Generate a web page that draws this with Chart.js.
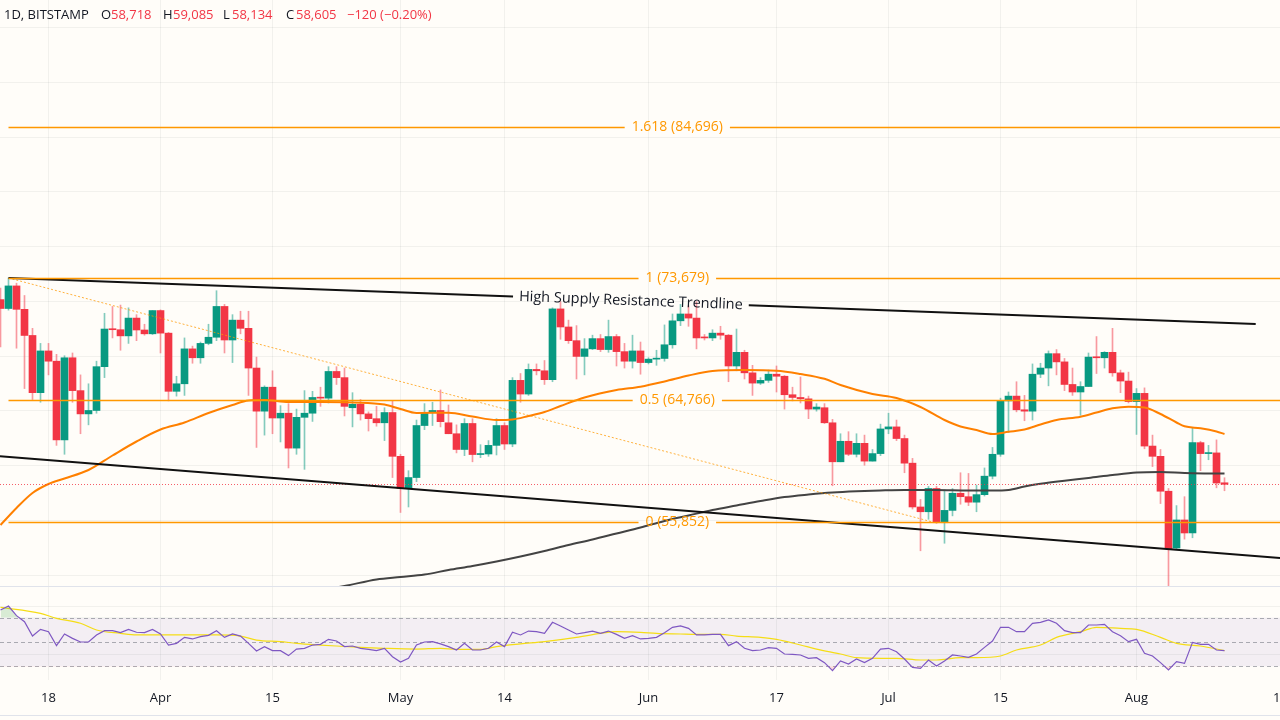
<!DOCTYPE html>
<html><head><meta charset="utf-8">
<script src="https://cdn.jsdelivr.net/npm/chart.js@4.4.1/dist/chart.umd.min.js"></script>
<style>
html,body{margin:0;padding:0;background:#fffdf9;width:1280px;height:720px;overflow:hidden;font-family:'Open Sans',sans-serif}
#main{position:absolute;left:0;top:0;width:1280px;height:586px}
#rsi{position:absolute;left:0;top:586px;width:1280px;height:134px}
#hdr{position:absolute;left:0;top:0;height:30px;width:460px;font-size:13px;color:#131722}
#hdr span{position:absolute;top:5px;white-space:nowrap;line-height:18px}
.r{color:#f23645}
</style></head>
<body>
<div id="main"><canvas id="c1"></canvas></div>
<div id="rsi"><canvas id="c2"></canvas></div>
<div id="hdr">
<span style="left:4px">1D, BITSTAMP</span>
<span style="left:101px">O</span><span class="r" style="left:111px">58,718</span>
<span style="left:163px">H</span><span class="r" style="left:173px">59,085</span>
<span style="left:223px">L</span><span class="r" style="left:232px">58,134</span>
<span style="left:286px">C</span><span class="r" style="left:296px">58,605</span>
<span class="r" style="left:347px">&minus;120 (&minus;0.20%)</span>
</div>
<script>
// ---- daily candles, index 0 = 12 Mar, last = 12 Aug ----
const opens = [72100,71450,73100,71390,69480,65300,68350,67600,61850,67850,
65450,63750,64000,67200,69950,69900,69450,70750,69880,69600,
71300,69650,65400,65950,68500,67850,68900,69350,71600,69150,
70600,70000,67100,63950,65700,63450,63800,61250,63500,63800,
64950,64900,66850,66400,64200,64450,63750,63400,63100,63850,
60650,58300,59100,62900,63850,64000,63100,62300,61150,63050,
60780,60820,61450,62900,61550,66200,65200,67000,66900,66250,
71420,70100,69100,67950,68500,69250,68450,69400,68300,67600,
68350,67500,67750,67800,68800,70550,71050,70750,69320,69300,
69650,69500,67250,68250,66750,66000,66200,66650,66500,65150,
64950,64850,64100,64200,63100,60250,61750,60800,61600,60300,
60850,62650,62800,61950,60150,56950,56600,58300,55800,56700,
57950,57700,57300,57850,59200,60800,64700,65050,64050,63950,
66650,67100,68150,67550,65900,65350,65750,67900,67850,68250,
66750,66150,64650,65250,61400,60650,58100,53950,56000,55050,
61650,60850,60900,58718];
const highs = [72950,73679,73300,72400,70000,68900,68900,68100,68000,68200,
66600,65950,67600,71100,71600,71700,71500,71000,70300,71300,
71350,69700,66500,69300,68700,69000,70300,72750,71750,71000,
71250,71250,67900,65800,66900,64350,64500,64100,65450,65400,
65700,67200,67200,67100,65300,64800,63900,64300,64200,64700,
60800,59600,63300,64500,64600,65500,64400,62950,63400,63400,
61500,61800,63400,63100,66400,66700,67400,67400,67650,71500,
71950,70600,70200,69250,69500,69550,70600,69550,68900,69500,
69000,67850,68400,70250,71050,71750,71650,71950,69550,69900,
70150,69550,69950,68400,67300,66400,66950,67250,66550,65700,
66450,65050,64500,64500,63350,62300,62450,62300,62200,61150,
63000,63800,63300,62200,60500,57500,58450,58450,58200,58300,
59450,59400,58550,59800,61300,64900,65350,66100,65100,67400,
67450,68350,68450,67800,67100,66100,68200,69400,68300,70000,
66950,66800,65600,65650,62200,61150,58300,57050,57700,62700,
61750,61450,61850,59085];
const lows = [68650,71330,68550,65600,64800,64600,66600,61450,60800,64600,
62300,62950,63800,66400,69300,68400,68900,69100,69500,69550,
68200,64700,65050,65100,67450,67450,68800,69100,68200,67500,
69600,65100,61300,62200,62300,61700,59800,60800,59700,63200,
64300,64550,65900,63600,62800,63300,62500,62850,61800,59100,
56550,56950,58800,62600,62900,62800,62300,60900,60700,60250,
60550,60650,60750,61150,61350,64600,65100,66600,65900,66100,
69200,68900,66300,66600,68450,68300,68250,67250,67100,67100,
66650,67400,67300,67600,68550,70200,70150,68500,69150,69100,
69200,66100,66900,66300,65100,65900,66050,65350,64100,64700,
64550,63400,63950,63050,58500,60250,60700,60600,60000,60300,
60700,62300,61800,59450,56800,53750,56050,55750,54300,56300,
57150,57050,56600,57750,59000,60650,62400,63900,63250,63300,
66400,65800,66600,65450,65100,63650,65750,66700,67100,66500,
65300,64550,62250,61200,59900,57200,49050,53850,54600,54700,
59600,60400,58350,58134];
const closes = [71450,73100,71390,69480,65300,68350,67600,61850,67850,65450,
63750,64000,67200,69950,69900,69450,70750,69880,69600,71300,
69650,65400,65950,68500,67850,68900,69350,71600,69150,70600,
70000,67100,63950,65700,63450,63800,61250,63500,63800,64950,
64900,66850,66400,64300,64450,63750,63400,63100,63850,60650,
58300,59100,62900,63850,64000,63180,62300,61150,63050,60780,
60820,61450,62900,61550,66200,65200,67000,66900,66250,71420,
70100,69100,67950,68500,69250,68450,69400,68300,67600,68350,
67500,67750,67800,68800,70550,71050,70750,69300,69300,69650,
69500,67250,68250,66750,66000,66200,66650,66500,65150,64950,
64850,64100,64250,63100,60250,61750,60800,61600,60300,60850,
62650,62800,61950,60150,56950,56600,58300,55800,56700,57950,
57700,57300,57850,59200,60800,64700,65050,64050,63950,66650,
67100,68150,67550,65900,65350,65750,67900,67850,68250,66750,
66150,64650,65250,61400,60650,58100,53900,56000,55050,61650,
60850,60900,58700,58605];

// ---- moving averages (day index, price) ----
const ma50Days = [0,2,4,6,8,11,14,17,20,23,26,29,31,33,36,40,44,48,50,52,56,59,62,64,66,68,70,73,77,80,83,86,89,93,97,100,103,105,109,112,115,118,120,122,124,126,128,130,132,135,137,139,141,143,145,147,148,150,152,153];
const ma50Vals = [55633,56875,57971,58628,59030,59651,60710,61733,62610,63122,63816,64400,64729,64765,64619,64619,64583,64437,64108,63816,63838,63560,63304,63341,63596,63889,64327,64948,65496,65737,66117,66555,66884,66957,66906,66665,66314,65861,65204,64911,64254,63304,62829,62574,62281,62442,62610,62975,63304,63545,63852,64159,64276,64217,63742,63122,62844,62698,62464,62281];
const ma200Days = [30,43,47,50,53,56,59,62,65,68,71,74,77,80,83,86,89,92,95,98,101,104,107,110,113,117,121,124,126,128,130,133,136,139,142,145,148,151,153];
const ma200Vals = [49934,51176,51651,51834,52016,52345,52637,52966,53331,53733,54172,54573,55012,55450,55925,56327,56729,57058,57386,57679,57861,58007,58095,58153,58190,58190,58153,58153,58190,58446,58643,58869,59066,59286,59468,59505,59432,59395,59395];

// ---- RSI (14) and its moving average ----
const rsiVals = [76.3,79.6,71.7,66.7,54.9,60.4,58.5,47.0,56.6,53.0,
50.0,50.0,55.8,59.3,59.3,57.7,60.4,58.0,57.7,60.4,
56.6,47.5,48.9,53.8,52.5,54.4,55.5,59.3,53.8,56.6,
54.9,48.9,42.6,46.2,42.9,42.9,38.8,44.2,44.8,47.5,
48.1,52.2,50.8,46.2,46.7,44.8,44.0,42.9,44.8,37.9,
33.5,36.6,47.5,50.0,50.3,48.4,46.2,43.4,48.9,43.4,
43.4,44.8,50.0,46.2,58.0,55.8,59.0,58.5,57.1,66.2,
63.2,59.9,56.6,57.7,59.0,57.1,59.0,56.3,53.0,55.2,
52.5,53.0,53.8,57.7,62.1,63.2,61.2,55.8,55.8,56.3,
56.3,47.0,50.3,44.8,42.9,43.4,45.3,44.8,40.1,39.8,
39.3,36.6,37.1,33.0,26.4,34.4,31.9,36.0,33.0,36.6,
44.2,44.8,42.0,36.0,29.1,28.3,35.2,30.2,34.4,39.3,
38.5,37.4,40.1,45.6,50.8,62.1,62.1,58.5,58.5,65.4,
66.2,68.1,65.4,59.3,57.7,57.7,64.0,64.0,64.5,58.5,
55.2,50.3,52.2,40.7,38.5,33.0,27.0,33.8,32.4,49.7,
48.1,48.1,43.4,42.9];
const rsiMaDays = [0,5,7,10,12,15,17,20,25,27,30,32,35,37,40,42,45,48,52,55,57,60,62,65,68,72,75,77,80,82,85,87,90,92,95,97,100,102,105,107,110,112,115,117,120,122,125,127,130,132,135,137,140,142,145,147,150,153];
const rsiMaVals = [78.5,73.6,69.5,65.4,59.9,57.1,55.8,55.8,55.8,55.8,54.9,51.6,50.3,48.9,47.5,46.7,45.6,44.8,44.2,44.8,44.0,44.0,46.2,48.4,50.3,53.8,57.1,58.5,58.0,57.1,56.6,56.3,56.3,54.9,53.8,52.2,47.5,44.2,40.1,37.1,36.6,36.6,35.2,35.2,37.1,37.1,38.5,43.4,47.5,53.8,58.5,62.1,61.2,60.4,53.8,48.9,46.7,42.9];
const rsiLevels = [70,50,30];
const rsiGrid = [80,40];

// ---- axes ----
const xTickDays = [6,20,34,50,63,81,97,111,125,142,160];
const xTickLabels = ['18','Apr','15','May','14','Jun','17','Jul','15','Aug','19'];
const priceGrid = [52000,56000,60000,64000,68000,72000,76000,80000,84000,88000,92000];

// ---- drawings ----
const fibRatios = ['1.618','1','0.5','0'];
const fibPrices = [84696,73679,64766,55852];
const fibStartDay = 1;
const fibLabelDay = 84.6;
const fibAnchor = [[1,73679],[116.5,55852]];
const upperTrend = [[1,73679],[156.9,70318]];
const upperTrendLabel = 'High Supply Resistance Trendline';
const upperTrendLabelDay = 78.8;
const lowerTrend = [[-0.0625,60659],[159.94,53222]];

const UP='#089981', DOWN='#f23645';
const XMIN=-0.0625, XMAX=159.9375;

function seg(ctx,x0,y0,x1,y1){ctx.beginPath();ctx.moveTo(x0,y0);ctx.lineTo(x1,y1);ctx.stroke();}

const mainDeco = {
  id:'mainDeco',
  beforeDraw(chart){
    const ctx=chart.ctx; ctx.save(); ctx.fillStyle='#fffdf9'; ctx.fillRect(0,0,chart.width,chart.height); ctx.restore();
  },
  beforeDatasetsDraw(chart){
    const ctx=chart.ctx, xs=chart.scales.x, ys=chart.scales.y, W=chart.width, H=chart.height;
    ctx.save(); ctx.strokeStyle='rgba(42,46,57,0.06)'; ctx.lineWidth=1;
    xTickDays.forEach(d=>{const x=Math.round(xs.getPixelForValue(d)-0.5)+0.5; seg(ctx,x,0,x,H);});
    priceGrid.forEach(p=>{const y=Math.round(ys.getPixelForValue(p))+0.5; seg(ctx,0,y,W,y);});
    ctx.restore();
  },
  afterDatasetsDraw(chart){
    const ctx=chart.ctx, xs=chart.scales.x, ys=chart.scales.y, W=chart.width;
    const X=v=>xs.getPixelForValue(v), Y=v=>ys.getPixelForValue(v);
    ctx.save();
    ctx.strokeStyle='rgba(242,54,69,0.8)'; ctx.lineWidth=1; ctx.setLineDash([1,2]);
    const py=Math.round(Y(closes[closes.length-1]))+0.5; seg(ctx,0,py,W,py);
    ctx.strokeStyle='rgba(255,152,0,0.75)'; ctx.setLineDash([2,2]);
    seg(ctx,X(fibAnchor[0][0]),Y(fibAnchor[0][1]),X(fibAnchor[1][0]),Y(fibAnchor[1][1]));
    ctx.setLineDash([]);
    ctx.strokeStyle='#111'; ctx.lineWidth=2;
    seg(ctx,X(lowerTrend[0][0]),Y(lowerTrend[0][1]),X(lowerTrend[1][0]),Y(lowerTrend[1][1]));
    const x0=X(upperTrend[0][0]), y0=Y(upperTrend[0][1]), x1=X(upperTrend[1][0]), y1=Y(upperTrend[1][1]);
    const ang=Math.atan2(y1-y0,x1-x0);
    const cx=X(upperTrendLabelDay), cy=y0+(cx-x0)*(y1-y0)/(x1-x0);
    ctx.font='14.5px "Open Sans"';
    const tw=ctx.measureText(upperTrendLabel).width, g=tw/2+6;
    seg(ctx,x0,y0,cx-g*Math.cos(ang),cy-g*Math.sin(ang));
    seg(ctx,cx+g*Math.cos(ang),cy+g*Math.sin(ang),x1,y1);
    ctx.save(); ctx.translate(cx,cy); ctx.rotate(ang);
    ctx.fillStyle='#131722'; ctx.textAlign='center'; ctx.textBaseline='middle';
    ctx.fillText(upperTrendLabel,0,0); ctx.restore();
    ctx.font='14px "Open Sans"'; ctx.textAlign='center'; ctx.textBaseline='middle';
    ctx.strokeStyle='#ff9800'; ctx.fillStyle='#ff9800'; ctx.lineWidth=1.6;
    const fx0=X(fibStartDay), lx=X(fibLabelDay);
    fibPrices.forEach((p,k)=>{
      const y=Math.round(Y(p))+0.5;
      const txt=fibRatios[k]+' ('+p.toLocaleString('en-US')+')';
      const w=ctx.measureText(txt).width;
      seg(ctx,fx0,y,lx-w/2-7,y); seg(ctx,lx+w/2+7,y,W,y);
      ctx.fillText(txt,lx,y);
    });
    ctx.restore();
  }
};

const bodyColors = closes.map((c,i)=> c>=opens[i]?UP:DOWN);
const wickColors = closes.map((c,i)=> c>=opens[i]?'rgba(8,153,129,0.5)':'rgba(242,54,69,0.5)');

new Chart(document.getElementById('c1'),{
  type:'bar',
  data:{datasets:[
    {type:'line',data:ma50Days.map((d,k)=>({x:d,y:ma50Vals[k]})),borderColor:'#ff8000',borderWidth:2,pointRadius:0,cubicInterpolationMode:'monotone',order:-2},
    {type:'line',data:ma200Days.map((d,k)=>({x:d,y:ma200Vals[k]})),borderColor:'#434343',borderWidth:2,pointRadius:0,cubicInterpolationMode:'monotone',order:-1},
    {type:'bar',data:opens.map((o,i)=>({x:i,y:[o,closes[i]]})),backgroundColor:bodyColors,barThickness:7,minBarLength:1,grouped:false,order:0},
    {type:'bar',data:lows.map((l,i)=>({x:i,y:[l,highs[i]]})),backgroundColor:wickColors,barThickness:1,grouped:false,order:1}
  ]},
  options:{responsive:true,maintainAspectRatio:false,animation:false,layout:{padding:0},
    plugins:{legend:{display:false},tooltip:{enabled:false}},
    scales:{x:{type:'linear',min:XMIN,max:XMAX,offset:false,display:false,grid:{offset:false}},y:{type:'linear',min:51176,max:93989,display:false}}},
  plugins:[mainDeco]
});

const rsiDeco = {
  id:'rsiDeco',
  beforeDraw(chart){
    const ctx=chart.ctx; ctx.save(); ctx.fillStyle='#fffdf9'; ctx.fillRect(0,0,chart.width,chart.height); ctx.restore();
  },
  beforeDatasetsDraw(chart){
    const ctx=chart.ctx, xs=chart.scales.x, ys=chart.scales.y, a=chart.chartArea, W=chart.width;
    const Y=v=>ys.getPixelForValue(v);
    ctx.save();
    ctx.fillStyle='rgba(126,87,194,0.09)';
    ctx.fillRect(0,Y(rsiLevels[0]),W,Y(rsiLevels[2])-Y(rsiLevels[0]));
    ctx.strokeStyle='rgba(42,46,57,0.06)'; ctx.lineWidth=1;
    xTickDays.forEach(d=>{const x=Math.round(xs.getPixelForValue(d)-0.5)+0.5; seg(ctx,x,a.top,x,a.bottom);});
    rsiGrid.forEach(v=>{const y=Math.round(Y(v))+0.5; seg(ctx,0,y,W,y);});
    ctx.strokeStyle='rgba(120,123,134,0.6)'; ctx.setLineDash([4,3]);
    rsiLevels.forEach(v=>{const y=Math.round(Y(v))+0.5; seg(ctx,0,y,W,y);});
    ctx.setLineDash([]);
    ctx.strokeStyle='#e0e3eb'; seg(ctx,0,0.5,W,0.5); seg(ctx,0,129.5,W,129.5);
    ctx.restore();
  },
  afterDraw(chart){
    const ctx=chart.ctx, xs=chart.scales.x;
    ctx.save(); ctx.font='13px "Open Sans"'; ctx.fillStyle='#131722'; ctx.textAlign='center'; ctx.textBaseline='middle';
    xTickDays.forEach((d,k)=>ctx.fillText(xTickLabels[k],xs.getPixelForValue(d),112));
    ctx.restore();
  }
};

const rsiPts = rsiVals.map((v,i)=>({x:i,y:v}));
new Chart(document.getElementById('c2'),{
  type:'line',
  data:{datasets:[
    {data:rsiPts,borderColor:'#7e57c2',borderWidth:1.2,pointRadius:0,fill:{target:{value:70},above:'rgba(76,175,80,0.22)',below:'rgba(0,0,0,0)'},order:0},
    {data:rsiPts,borderColor:'rgba(0,0,0,0)',borderWidth:0,pointRadius:0,fill:{target:{value:30},above:'rgba(0,0,0,0)',below:'rgba(242,54,69,0.18)'},order:2},
    {data:rsiMaDays.map((d,k)=>({x:d,y:rsiMaVals[k]})),borderColor:'#f5dd16',borderWidth:1.2,pointRadius:0,cubicInterpolationMode:'monotone',order:1}
  ]},
  options:{responsive:true,maintainAspectRatio:false,animation:false,layout:{padding:{top:1,bottom:40,left:0,right:0}},
    plugins:{legend:{display:false},tooltip:{enabled:false}},
    scales:{x:{type:'linear',min:XMIN,max:XMAX,offset:false,display:false},y:{type:'linear',min:18.72,max:95.27,display:false}}},
  plugins:[rsiDeco]
});
</script>
</body></html>
